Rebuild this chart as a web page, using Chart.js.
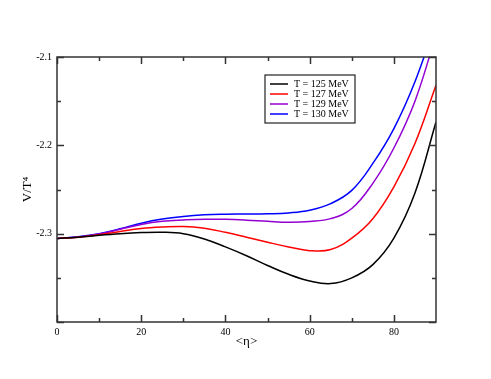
<!DOCTYPE html>
<html>
<head>
  <title>V/T^4 vs eta</title>
  <script src="https://cdn.jsdelivr.net/npm/chart.js"></script>
  <style>
    body { margin: 0; background: #fff; }
  </style>
</head>
<body>
  <canvas id="potChart" width="491" height="379"></canvas>

  <script>
    // values
    const eta = [0, 5, 10, 15, 20, 25, 30, 35, 40, 45, 50, 55, 60, 65, 70, 75, 80, 85, 90];
    const t125 = [-2.3055, -2.3040, -2.3018, -2.3000, -2.2988, -2.2984, -2.3000, -2.3060, -2.3150, -2.3250,
                  -2.3360, -2.3460, -2.3535, -2.3565, -2.3500, -2.3350, -2.3050, -2.2540, -2.1736];
    const t127 = [-2.3055, -2.3040, -2.3012, -2.2975, -2.2942, -2.2925, -2.2918, -2.2938, -2.2985, -2.3040,
                  -2.3097, -2.3150, -2.3192, -2.3180, -2.3050, -2.2830, -2.2470, -2.1980, -2.1320];
    const t129 = [-2.3055, -2.3038, -2.3003, -2.2950, -2.2895, -2.2860, -2.2845, -2.2836, -2.2838, -2.2847,
                  -2.2860, -2.2870, -2.2862, -2.2830, -2.2715, -2.2430, -2.2030, -2.1500, -2.0750];
    const t130 = [-2.3055, -2.3035, -2.3000, -2.2945, -2.2882, -2.2835, -2.2805, -2.2787, -2.2780, -2.2778,
                  -2.2775, -2.2765, -2.2735, -2.2660, -2.2510, -2.2205, -2.1810, -2.1280, -2.0600];
    const seriesLabels = ['T = 125 MeV', 'T = 127 MeV', 'T = 129 MeV', 'T = 130 MeV'];
    const seriesColors = ['#000000', '#ff0000', '#9400d3', '#0000ff'];
    const xTicks = [0, 20, 40, 60, 80];
    const xMinor = [10, 30, 50, 70];
    const yTicks = [-2.4, -2.3, -2.2, -2.1];
    const yMinor = [-2.35, -2.25, -2.15];

    const allSeries = [t125, t127, t129, t130];
    const serif = "'Liberation Serif', 'DejaVu Serif', serif";

    // grace-style frame with inward ticks on all four sides + boxed legend
    const frameAndLegend = {
      id: 'frameAndLegend',
      afterDatasetsDraw(chart) {
        const c = chart.ctx;
        const a = chart.chartArea;
        const xs = chart.scales.x, ys = chart.scales.y;
        c.save();
        c.strokeStyle = '#333';
        c.lineWidth = 1.5;
        c.strokeRect(a.left, a.top, a.right - a.left, a.bottom - a.top);

        c.beginPath();
        const tickX = (v, len) => {
          const p = Math.round(xs.getPixelForValue(v)) + 0.5;
          c.moveTo(p, a.bottom); c.lineTo(p, a.bottom - len);
          c.moveTo(p, a.top); c.lineTo(p, a.top + len);
        };
        const tickY = (v, len) => {
          const p = Math.round(ys.getPixelForValue(v)) + 0.5;
          c.moveTo(a.left, p); c.lineTo(a.left + len, p);
          c.moveTo(a.right, p); c.lineTo(a.right - len, p);
        };
        xTicks.forEach(v => tickX(v, 7));
        xMinor.forEach(v => tickX(v, 4));
        yTicks.forEach(v => tickY(v, 7));
        yMinor.forEach(v => tickY(v, 4));
        c.stroke();

        // legend box
        const bx = 265, by = 75, bw = 90, bh = 48;
        c.fillStyle = '#fff';
        c.fillRect(bx, by, bw, bh);
        c.lineWidth = 1.2;
        c.strokeStyle = '#222';
        c.strokeRect(bx, by, bw, bh);
        c.font = '10px ' + serif;
        c.textBaseline = 'middle';
        c.textAlign = 'left';
        chart.data.datasets.forEach((ds, i) => {
          const yy = by + 9 + i * 10;
          c.strokeStyle = ds.borderColor;
          c.lineWidth = 1.5;
          c.beginPath();
          c.moveTo(bx + 5, yy); c.lineTo(bx + 23, yy);
          c.stroke();
          c.fillStyle = '#000';
          c.fillText(ds.label, bx + 29, yy);
        });
        c.restore();
      }
    };

    const ctx = document.getElementById('potChart').getContext('2d');
    const chart = new Chart(ctx, {
      type: 'line',
      data: {
        datasets: allSeries.map((s, i) => ({
          label: seriesLabels[i],
          data: s.map((v, j) => ({ x: eta[j], y: v })),
          borderColor: seriesColors[i],
          borderWidth: 1.5,
          pointRadius: 0,
          fill: false,
          tension: 0.4
        }))
      },
      options: {
        responsive: false,
        animation: false,
        layout: { padding: { left: 0, top: 57, right: 55, bottom: 0 } },
        plugins: {
          legend: { display: false },
          tooltip: { enabled: false }
        },
        scales: {
          x: {
            type: 'linear',
            min: 0,
            max: 90,
            border: { display: false },
            grid: { display: false, drawTicks: false },
            afterBuildTicks: s => { s.ticks = xTicks.map(v => ({ value: v })); },
            afterFit: s => { s.height = 57; },
            ticks: { color: '#000', padding: 4, maxRotation: 0, font: { family: serif, size: 10 } },
            title: { display: true, text: '<η>', color: '#000', padding: { top: 2, bottom: 30 },
                     font: { family: serif, size: 13 } }
          },
          y: {
            type: 'linear',
            min: -2.4,
            max: -2.1,
            border: { display: false },
            grid: { display: false, drawTicks: false },
            afterBuildTicks: s => { s.ticks = yTicks.map(v => ({ value: v })); },
            afterFit: s => { s.width = 57; },
            ticks: {
              color: '#000', padding: 5, font: { family: serif, size: 10 },
              callback: v => (v <= -2.35 ? '' : v.toFixed(1))
            },
            title: { display: true, text: 'V/T⁴', color: '#000', padding: { top: 20, bottom: 0 },
                     font: { family: serif, size: 13 } }
          }
        }
      },
      plugins: [frameAndLegend]
    });
  </script>
</body>
</html>
